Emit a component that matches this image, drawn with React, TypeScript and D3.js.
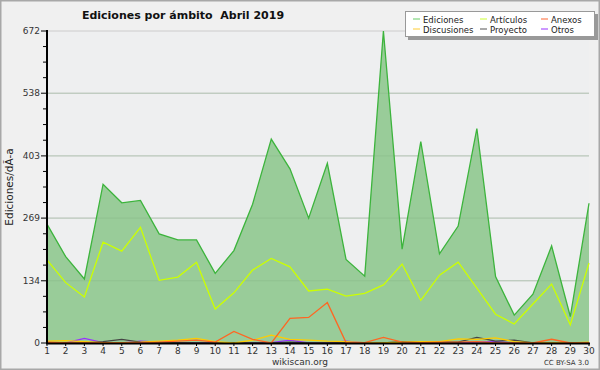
import React from 'react';
import * as d3 from 'd3';

const days = d3.range(1, 31);
const ediciones = [256, 186, 138, 342, 302, 307, 235, 222, 222, 150, 199, 299, 439, 375, 269, 387, 180, 144, 672, 202, 434, 192, 252, 462, 143, 60, 105, 209, 57, 301];
const articulos = [179, 130, 99, 217, 198, 249, 135, 142, 174, 73, 108, 157, 182, 164, 112, 116, 101, 107, 125, 170, 92, 146, 174, 118, 62, 41, 84, 127, 39, 172];
const anexos = [2, 0, 0, 0, 0, 1, 2, 4, 6, 2, 25, 8, 0, 53, 55, 87, 1, 1, 12, 2, 1, 2, 2, 3, 0, 0, 0, 8, 0, 0];
const discusiones = [4, 5, 3, 1, 1, 2, 4, 6, 10, 3, 0, 6, 17, 8, 6, 4, 3, 1, 0, 2, 3, 3, 9, 8, 11, 3, 0, 0, 0, 2];
const proyecto = [0, 0, 0, 3, 8, 2, 1, 1, 0, 0, 0, 0, 0, 2, 0, 0, 1, 0, 0, 3, 2, 2, 2, 12, 4, 6, 0, 0, 0, 0];
const otros = [0, 0, 10, 1, 0, 4, 2, 1, 0, 0, 0, 0, 1, 6, 0, 0, 4, 0, 0, 0, 0, 0, 0, 2, 3, 0, 0, 0, 0, 0];
const yTicks = [0, 134, 269, 403, 538, 672];

const series = [
  { name: 'Ediciones', values: ediciones, color: '#3cb43c' },
  { name: 'Artículos', values: articulos, color: '#ccff00' },
  { name: 'Anexos', values: anexos, color: '#ff6622' },
  { name: 'Discusiones', values: discusiones, color: '#ffcc00' },
  { name: 'Proyecto', values: proyecto, color: '#444444' },
  { name: 'Otros', values: otros, color: '#9933ff' },
];
const legendColors = ['#66cc66', '#ccff33', '#ff6633', '#ffcc33', '#555555', '#9933ff'];

const font = 'DejaVu Sans, sans-serif';

export default function App() {
  const W = 600, H = 370;
  const x = d3.scaleLinear().domain([1, 30]).range([47, 589]);
  const y = d3.scaleLinear().domain([0, 672]).range([343, 31]);
  const line = d3.line<number>().x((_, i) => x(days[i])).y(d => y(d));
  const area = d3.area<number>().x((_, i) => x(days[i])).y0(y(0)).y1(d => y(d));
  const minor: number[] = [];
  for (let i = 0; i < yTicks.length - 1; i++) {
    const step = (yTicks[i + 1] - yTicks[i]) / 4;
    for (let k = 1; k < 4; k++) minor.push(yTicks[i] + step * k);
  }

  return (
    <svg width={W} height={H} style={{ position: 'absolute', left: 0, top: 0, fontFamily: font }}>
      <rect x={0.5} y={0.5} width={W - 1} height={H - 1} fill="#f0f0f0" stroke="#a8a8a8" strokeWidth={2} />
      <rect x={47} y={31} width={542} height={312} fill="#eeeff0" />
      {yTicks.slice(1).map(t => (
        <line key={t} x1={47} x2={589} y1={y(t)} y2={y(t)} stroke="#cccccc" strokeWidth={1} />
      ))}
      <path d={area(ediciones) || ''} fill="#99cc99" />
      {yTicks.slice(1, -1).map(t => (
        <line key={'g' + t} x1={47} x2={589} y1={y(t)} y2={y(t)} stroke="#80b080" strokeWidth={1} opacity={0.35} />
      ))}
      {series.slice().reverse().map(s => (
        <path key={s.name} d={line(s.values) || ''} fill="none" stroke={s.color} strokeWidth={1.3} />
      ))}
      {/* axes */}
      <line x1={47} x2={47} y1={30} y2={344} stroke="#000" strokeWidth={2} />
      <line x1={46} x2={590} y1={343.5} y2={343.5} stroke="#000" strokeWidth={2} />
      {yTicks.map(t => (
        <g key={t}>
          <line x1={41} x2={47} y1={y(t)} y2={y(t)} stroke="#000" />
          <text x={40} y={y(t) + 3} fontSize={9} textAnchor="end" fill="#333">{t}</text>
        </g>
      ))}
      {minor.map(t => (
        <line key={t} x1={43} x2={47} y1={y(t)} y2={y(t)} stroke="#000" />
      ))}
      {days.map(d => (
        <g key={d}>
          <line x1={x(d)} x2={x(d)} y1={343} y2={346} stroke="#000" />
          <text x={x(d)} y={354} fontSize={9} textAnchor="middle" fill="#333">{d}</text>
        </g>
      ))}
      <text transform="translate(13,187) rotate(-90)" fontSize={10.5} textAnchor="middle" fill="#222">Ediciones/dÃ-a</text>
      <text x={183} y={19} fontSize={11} fontWeight="bold" textAnchor="middle" fill="#111" style={{ whiteSpace: 'pre' }}>Ediciones por ámbito  Abril 2019</text>
      <text x={300} y={365} fontSize={9} textAnchor="middle" fill="#333">wikiscan.org</text>
      <text x={589} y={365} fontSize={7} textAnchor="end" fill="#333">CC BY-SA 3.0</text>
      {/* legend */}
      <rect x={408} y={14} width={190} height={26} fill="#999" />
      <rect x={405.5} y={11.5} width={189} height={25} fill="#fff" stroke="#999" />
      {series.map((s, i) => {
        const col = i % 3, row = Math.floor(i / 3);
        const cx = [413, 480, 541][col];
        const cy = 19 + row * 10;
        return (
          <g key={s.name}>
            <line x1={cx} x2={cx + 7} y1={cy} y2={cy} stroke={legendColors[i]} strokeWidth={1} />
            <text x={cx + 10} y={cy + 3.5} fontSize={8.5} fill="#222">{s.name}</text>
          </g>
        );
      })}
    </svg>
  );
}
